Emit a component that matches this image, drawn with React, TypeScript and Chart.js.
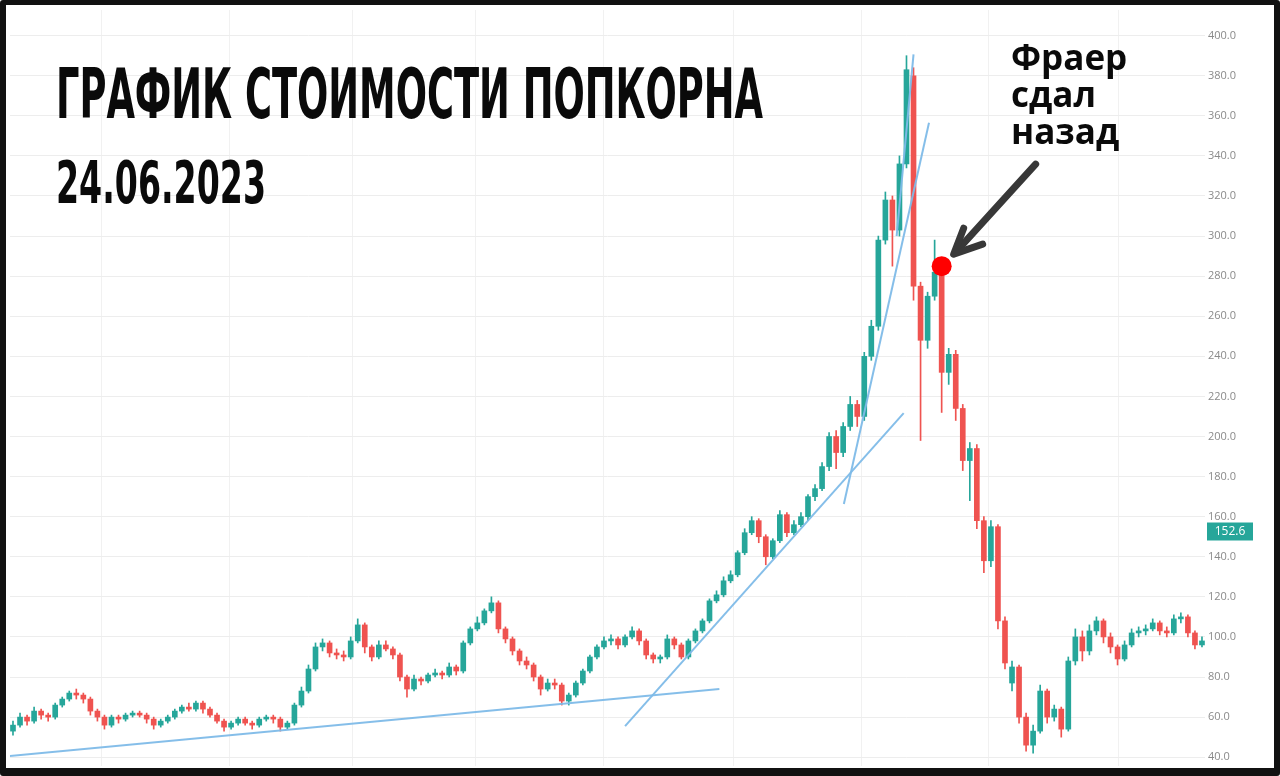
import React, { useEffect, useRef } from 'react';
import { Chart, registerables } from 'chart.js';

Chart.register(...registerables);

// ---- Data ----
const opens = [
  53, 56, 60, 58, 63, 61, 60, 66, 69, 72,
  71, 69, 63, 60, 56, 60, 59, 61, 62, 61,
  59, 56, 58, 60, 63, 65, 64, 67, 64, 61,
  58, 55, 57, 59, 57, 56, 59, 60, 59, 55,
  57, 66, 73, 84, 95, 97, 92, 91, 90, 98,
  106, 95, 90, 96, 94, 91, 80, 74, 79, 78,
  81, 82, 81, 85, 83, 97, 104, 107, 113, 117,
  104, 99, 93, 88, 86, 80, 74, 77, 76, 68,
  71, 77, 83, 90, 95, 98, 99, 96, 100, 103,
  98, 91, 89, 90, 99, 96, 90, 98, 103, 108,
  118, 121, 128, 131, 142, 152, 158, 150, 140, 148,
  161, 152, 156, 160, 170, 174, 185, 200, 192, 205,
  216, 210, 240, 255, 298, 318, 303, 336, 380, 275,
  248, 270, 282, 232, 241, 214, 188, 194, 158, 138,
  155, 108, 77, 85, 60, 46, 53, 73, 60, 64,
  54, 88, 100, 93, 103, 108, 100, 95, 89, 96,
  102, 103, 104, 107, 103, 102, 109, 110, 102, 96,
];
const closes = [
  56, 60, 58, 63, 61, 60, 66, 69, 72, 71,
  69, 63, 60, 56, 60, 59, 61, 62, 61, 59,
  56, 58, 60, 63, 65, 64, 67, 64, 61, 58,
  55, 57, 59, 57, 56, 59, 60, 59, 55, 57,
  66, 73, 84, 95, 97, 92, 91, 90, 98, 106,
  95, 90, 96, 94, 91, 80, 74, 79, 78, 81,
  82, 81, 85, 83, 97, 104, 107, 113, 117, 104,
  99, 93, 88, 86, 80, 74, 77, 76, 68, 71,
  77, 83, 90, 95, 98, 99, 96, 100, 103, 98,
  91, 89, 90, 99, 96, 90, 98, 103, 108, 118,
  121, 128, 131, 142, 152, 158, 150, 140, 148, 161,
  152, 156, 160, 170, 174, 185, 200, 192, 205, 216,
  210, 240, 255, 298, 318, 303, 336, 383, 275, 248,
  270, 282, 232, 241, 214, 188, 194, 158, 138, 155,
  108, 87, 85, 60, 46, 53, 73, 60, 64, 54,
  88, 100, 93, 103, 108, 100, 95, 89, 96, 102,
  103, 104, 107, 103, 102, 109, 110, 102, 96, 98,
];
const highs = [
  58, 62, 61, 65, 64, 62, 67, 70, 73, 74,
  72, 70, 64, 61, 61, 61, 62, 63, 63, 62,
  60, 59, 61, 64, 66, 67, 68, 68, 65, 62,
  59, 58, 60, 60, 58, 60, 61, 61, 60, 58,
  67, 75, 86, 97, 99, 98, 94, 93, 100, 109,
  107, 96, 98, 98, 95, 92, 81, 81, 80, 82,
  84, 83, 87, 86, 98, 105, 110, 114, 120, 118,
  105, 100, 94, 90, 87, 81, 79, 79, 77, 72,
  78, 84, 91, 96, 100, 101, 100, 101, 105, 104,
  99, 92, 91, 101, 100, 97, 99, 104, 109, 119,
  123, 130, 133, 143, 154, 160, 159, 151, 149, 163,
  162, 158, 162, 171, 176, 187, 202, 203, 207, 220,
  218, 242, 258, 300, 322, 320, 340, 390, 384, 277,
  272, 298, 285, 244, 243, 216, 197, 196, 160, 158,
  156, 110, 88, 86, 62, 56, 76, 74, 66, 65,
  90, 104, 103, 106, 110, 109, 102, 96, 98, 104,
  105, 106, 109, 108, 105, 111, 112, 111, 103, 100,
];
const lows = [
  51, 55, 56, 57, 59, 58, 59, 65, 68, 69,
  67, 61, 58, 54, 55, 57, 58, 60, 60, 57,
  54, 55, 57, 59, 62, 63, 63, 62, 60, 57,
  53, 54, 56, 56, 54, 55, 58, 57, 53, 54,
  56, 65, 72, 83, 93, 90, 89, 88, 89, 97,
  92, 88, 89, 93, 89, 78, 70, 73, 76, 77,
  80, 79, 80, 81, 82, 96, 103, 106, 112, 102,
  97, 91, 86, 84, 78, 71, 73, 74, 66, 66,
  70, 76, 82, 89, 94, 96, 94, 95, 99, 96,
  89, 87, 87, 89, 94, 89, 89, 97, 102, 107,
  117, 120, 127, 130, 141, 151, 147, 136, 139, 147,
  150, 151, 155, 158, 168, 173, 183, 184, 190, 203,
  205, 208, 238, 253, 296, 285, 300, 334, 268, 198,
  244, 268, 212, 226, 208, 183, 168, 154, 132, 135,
  104, 84, 73, 57, 43, 42, 52, 57, 58, 50,
  53, 86, 88, 91, 101, 97, 92, 86, 88, 95,
  100, 101, 103, 101, 100, 101, 107, 100, 94, 95,
];

const yTickValues = [40, 60, 80, 100, 120, 140, 160, 180, 200, 220, 240, 260, 280, 300, 320, 340, 360, 380, 400];
const xGridIndices = [3.4, 21.8, 39.8, 56.8, 74.8, 93.2, 111.6, 129.5, 147.9, 166.3];

// trend lines drawn by the author (candle index, price)
const trendLineBase = [{ x: -0.6, y: 40.5 }, { x: 100.4, y: 74 }];
const trendLineMid = [{ x: 87.0, y: 55.5 }, { x: 126.6, y: 211.7 }];
const trendLineSteep = [{ x: 118.1, y: 166.3 }, { x: 130.2, y: 356.5 }];
const trendLineTop = [{ x: 128.0, y: 390.7 }, { x: 125.6, y: 300 }];

const markerPoint = { x: 132, y: 285 };
const lastPriceLabel = 152.6;

const titleText = 'ГРАФИК СТОИМОСТИ ПОПКОРНА';
const dateText = '24.06.2023';
const noteLines = ['Фраер', 'сдал', 'назад'];

const UP = '#26a69a';
const DOWN = '#ef5350';
const TREND = 'rgba(126,186,232,0.95)';

const overlayPlugin = {
  id: 'overlay',
  afterDraw(chart: any) {
    const { ctx } = chart;
    const xs = chart.scales.x;
    const ys = chart.scales.y;

    // last price tag
    const py = ys.getPixelForValue(lastPriceLabel);
    ctx.save();
    ctx.fillStyle = UP;
    ctx.fillRect(1207, py - 9, 46, 18);
    ctx.fillStyle = '#ffffff';
    ctx.font = '12px "Open Sans", "DejaVu Sans", sans-serif';
    ctx.textAlign = 'center';
    ctx.textBaseline = 'middle';
    ctx.fillText(lastPriceLabel.toFixed(1), 1230, py + 0.5);
    ctx.restore();

    // arrow pointing at marker
    const mx = xs.getPixelForValue(markerPoint.x);
    const my = ys.getPixelForValue(markerPoint.y);
    ctx.save();
    ctx.strokeStyle = '#383838';
    ctx.lineWidth = 7;
    ctx.lineCap = 'round';
    ctx.lineJoin = 'round';
    ctx.beginPath();
    ctx.moveTo(mx + 94, my - 102);
    ctx.lineTo(mx + 14, my - 14);
    ctx.stroke();
    ctx.beginPath();
    ctx.moveTo(mx + 22, my - 38);
    ctx.lineTo(mx + 12, my - 12);
    ctx.lineTo(mx + 41, my - 22);
    ctx.stroke();
    ctx.restore();

    // title + date (condensed, fitted to width)
    const fitText = (text: string, font: string, x: number, base: number, width: number) => {
      ctx.save();
      ctx.font = font;
      const w = ctx.measureText(text).width;
      ctx.translate(x, base);
      ctx.scale(width / w, 1);
      ctx.fillStyle = '#0a0a0a';
      ctx.textAlign = 'left';
      ctx.textBaseline = 'alphabetic';
      ctx.fillText(text, 0, 0);
      ctx.restore();
    };
    fitText(titleText, 'bold 69px "DejaVu Sans Condensed", "Liberation Sans Narrow", "DejaVu Sans", sans-serif', 56, 118, 707);
    fitText(dateText, 'bold 59px "DejaVu Sans Condensed", "Liberation Sans Narrow", "DejaVu Sans", sans-serif', 56, 203, 210);

    // annotation
    ctx.save();
    ctx.fillStyle = '#0a0a0a';
    ctx.font = 'bold 35px "Open Sans", "DejaVu Sans", sans-serif';
    ctx.textAlign = 'left';
    ctx.textBaseline = 'alphabetic';
    noteLines.forEach((line, k) => ctx.fillText(line, 1011, 70 + k * 37));
    ctx.restore();
  },
};

export default function App() {
  const ref = useRef<HTMLCanvasElement>(null);

  useEffect(() => {
    const canvas = ref.current;
    if (!canvas) return;
    const idx = closes.map((_, i) => i);
    const colorFor = (i: number) => (closes[i] >= opens[i] ? UP : DOWN);
    const lineDs = (data: { x: number; y: number }[]) => ({
      type: 'line' as const,
      data,
      borderColor: TREND,
      borderWidth: 2,
      pointRadius: 0,
      tension: 0,
      fill: false,
      order: 2,
    });

    const chart = new Chart(canvas, {
      type: 'bar',
      data: {
        datasets: [
          {
            type: 'bar',
            data: idx.map((i) => ({ x: i, y: [lows[i], highs[i]] })) as any,
            backgroundColor: idx.map(colorFor),
            barThickness: 1,
            grouped: false,
            borderWidth: 0,
            order: 5,
          } as any,
          {
            type: 'bar',
            data: idx.map((i) => ({ x: i, y: [opens[i], closes[i]] })) as any,
            backgroundColor: idx.map(colorFor),
            barThickness: 5,
            grouped: false,
            borderWidth: 0,
            minBarLength: 1,
            order: 4,
          } as any,
          lineDs(trendLineBase) as any,
          lineDs(trendLineMid) as any,
          lineDs(trendLineSteep) as any,
          lineDs(trendLineTop) as any,
          {
            type: 'scatter',
            data: [markerPoint],
            pointRadius: 10,
            pointBackgroundColor: '#ff0000',
            backgroundColor: '#ff0000',
            borderWidth: 0,
            pointBorderWidth: 0,
            order: 0,
          } as any,
        ],
      },
      options: {
        animation: false,
        responsive: true,
        maintainAspectRatio: false,
        layout: { padding: { left: 6, top: 6, right: 0, bottom: 8 } },
        plugins: {
          legend: { display: false },
          tooltip: { enabled: false },
        },
        scales: {
          x: {
            type: 'linear',
            min: -0.425,
            max: 169.43,
            offset: false,
            afterBuildTicks: (s: any) => {
              s.ticks = xGridIndices.map((v) => ({ value: v }));
            },
            afterFit: (s: any) => {
              s.height = 0;
            },
            ticks: { display: false },
            grid: { color: '#f1f1f1', drawTicks: false, lineWidth: 1 },
            border: { display: false },
          },
          y: {
            type: 'linear',
            position: 'right',
            min: 35.6,
            max: 412.8,
            afterBuildTicks: (s: any) => {
              s.ticks = yTickValues.map((v) => ({ value: v }));
            },
            afterFit: (s: any) => {
              s.width = 75;
            },
            ticks: {
              padding: 3,
              color: '#8a8a8a',
              font: { family: '"Open Sans", "DejaVu Sans", sans-serif', size: 11 },
              callback: (v: any) => Number(v).toFixed(1),
            },
            grid: { color: '#ededed', drawTicks: false, lineWidth: 1 },
            border: { display: false },
          },
        },
      } as any,
      plugins: [overlayPlugin],
    });
    return () => chart.destroy();
  }, []);

  return (
    <div style={{ position: 'fixed', left: 0, top: 0, width: 1280, height: 776, background: '#ffffff' }}>
      <canvas ref={ref} />
      <div
        style={{
          position: 'absolute',
          inset: 0,
          boxSizing: 'border-box',
          borderStyle: 'solid',
          borderColor: '#111111',
          borderWidth: '5px 6px 8px 6px',
          borderRadius: 3,
          pointerEvents: 'none',
        }}
      />
    </div>
  );
}
